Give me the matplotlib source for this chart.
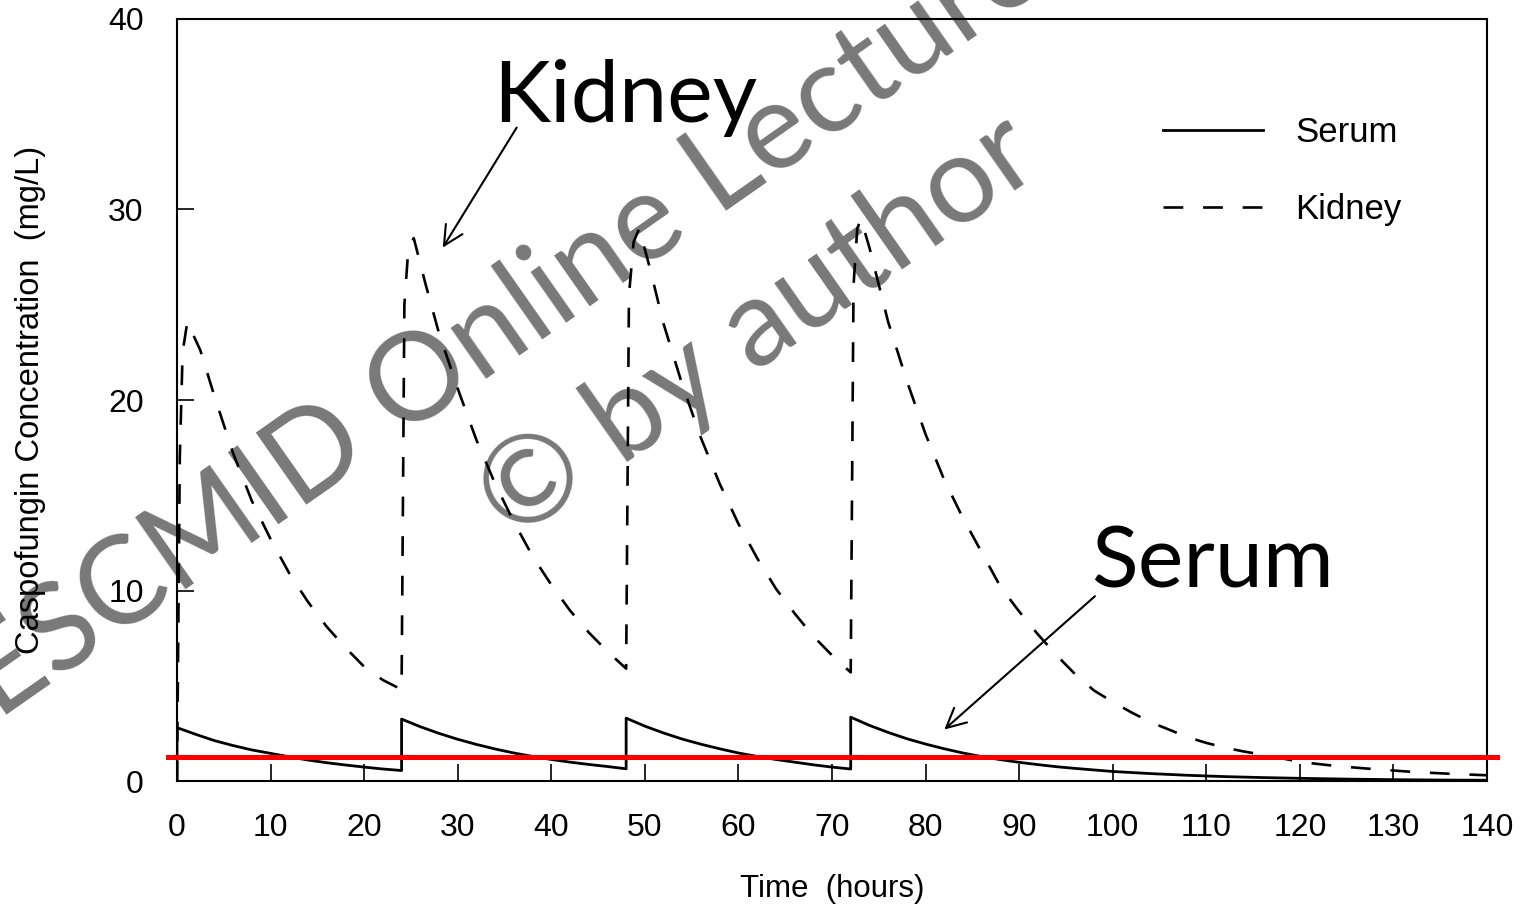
import matplotlib
matplotlib.use('Agg')
import matplotlib.pyplot as plt

plt.rc('font', family='Liberation Sans')

# time (hours) and concentration (mg/L); a dose every 24 h
serum_t = [0, 0, 2, 4, 6, 8, 10, 12, 14, 16, 18, 20, 22, 24,
           24, 26, 28, 30, 32, 34, 36, 38, 40, 42, 44, 46, 48,
           48, 50, 52, 54, 56, 58, 60, 62, 64, 66, 68, 70, 72,
           72, 74, 76, 78, 80, 82, 84, 86, 88, 90, 92, 94, 96, 98, 100,
           104, 108, 112, 116, 120, 125, 130, 135, 140]
serum_c = [0, 2.8, 2.45, 2.12, 1.86, 1.63, 1.45, 1.27, 1.1, 0.96, 0.84, 0.73, 0.63, 0.55,
           3.25, 2.85, 2.5, 2.19, 1.92, 1.68, 1.47, 1.29, 1.13, 0.99, 0.87, 0.76, 0.64,
           3.3, 2.88, 2.52, 2.2, 1.93, 1.69, 1.47, 1.29, 1.13, 0.99, 0.85, 0.73, 0.63,
           3.35, 2.92, 2.55, 2.22, 1.94, 1.69, 1.47, 1.28, 1.12, 0.98, 0.86, 0.75, 0.66, 0.58, 0.5,
           0.39, 0.3, 0.23, 0.18, 0.14, 0.1, 0.07, 0.05, 0.04]

kidney_t = [0, 0.3, 0.6, 1.1, 2.5, 4, 6, 8, 10, 12, 14, 16, 18, 20, 22, 24,
            24.3, 24.7, 25.3, 26.5, 28, 30, 32, 34, 36, 38, 40, 42, 44, 46, 48,
            48.3, 48.8, 49.4, 50.5, 52, 54, 56, 58, 60, 62, 64, 66, 68, 70, 72,
            72.3, 72.7, 73.1, 74, 76, 78, 80, 82, 84, 86, 88, 90, 92, 94, 96, 98, 100,
            102, 104, 106, 108, 110, 112, 114, 116, 118, 120, 124, 128, 132, 136, 140]
kidney_c = [0, 17, 22.5, 24.1, 22.6, 20.2, 17.2, 14.7, 12.7, 10.9, 9.4, 8.1, 7.0, 6.0, 5.3, 4.8,
            25, 27.8, 28.5, 26.2, 23.5, 20.6, 17.9, 15.6, 13.6, 11.8, 10.3, 8.95, 7.8, 6.8, 5.9,
            25.5, 28.3, 29.0, 27.0, 24.0, 20.8, 18.0, 15.6, 13.5, 11.7, 10.1, 8.8, 7.6, 6.6, 5.7,
            26, 29, 29.5, 28.0, 24.1, 21.0, 18.2, 15.8, 13.8, 12.0, 10.2, 8.9, 7.7, 6.6, 5.6, 4.75, 4.15,
            3.6, 3.1, 2.7, 2.3, 2.0, 1.75, 1.55, 1.38, 1.2, 1.0, 0.78, 0.62, 0.48, 0.38, 0.3]

threshold = 1.25

x_ticks = list(range(0, 141, 10))
y_ticks = [0, 10, 20, 30, 40]

W, H = 1521, 905


def px(x, y):
    "pixel position -> figure fraction"
    return x / W, 1 - y / H


fig = plt.figure(figsize=(W / 100, H / 100), dpi=100)
ax = fig.add_axes([177 / W, 1 - 781 / H, 1310 / W, 762 / H])

ax.plot(serum_t, serum_c, color='black', lw=2.0, label='Serum')
ax.plot(kidney_t, kidney_c, color='black', lw=1.9, linestyle=(0, (7.5, 7.5)), label='Kidney')

ax.plot([-0.95, 141.1], [threshold, threshold], color='#ff0000', lw=3.6,
        clip_on=False, zorder=5)

ax.set_xlim(0, 140)
ax.set_ylim(0, 40)
ax.set_xticks(x_ticks)
ax.set_yticks(y_ticks)
ax.tick_params(direction='in', length=12, width=1.2, labelsize=23)
ax.tick_params(axis='x', pad=23)
ax.tick_params(axis='y', pad=24)
for s in ax.spines.values():
    s.set_linewidth(1.5)

ax.set_xlabel('Time  (hours)', fontsize=22.5)
ax.xaxis.set_label_coords(0.5, -0.122)
ax.set_ylabel('Caspofungin Concentration  (mg/L)', fontsize=23.5)
ax.yaxis.label.set_va('center')
ax.yaxis.set_label_coords(-0.112, 0.5)

ax.legend(loc='upper left', bbox_to_anchor=(0.7527, 0.873), frameon=False,
          fontsize=25, handlelength=2.88, handletextpad=0.92, labelspacing=1.28,
          borderpad=0, borderaxespad=0)

# callouts
arrow = dict(arrowstyle='->,head_length=0.7,head_width=0.35', color='black',
             lw=1.5, mutation_scale=20, shrinkA=0, shrinkB=0)
ax.annotate('', xy=(28.4, 28.0), xytext=(36.3, 34.3), arrowprops=arrow)
ax.annotate('', xy=(82.0, 2.7), xytext=(98.1, 9.7), arrowprops=arrow)
fig.text(*px(625, 122), 'Kidney', family='Lato', fontsize=62, ha='center', va='baseline')
fig.text(*px(1213, 588), 'Serum', family='Lato', fontsize=62, ha='center', va='baseline')

# watermark
wm = dict(family='Lato', fontsize=88, color='black', alpha=0.53, rotation=35,
          rotation_mode='anchor', ha='center', va='baseline', zorder=10)
fig.text(*px(690, 236), 'ESCMID Online Lecture Library', **wm)
fig.text(*px(778, 356), '\u00a9 by author', **wm)

fig.savefig('out.png', dpi=100, facecolor='white')
